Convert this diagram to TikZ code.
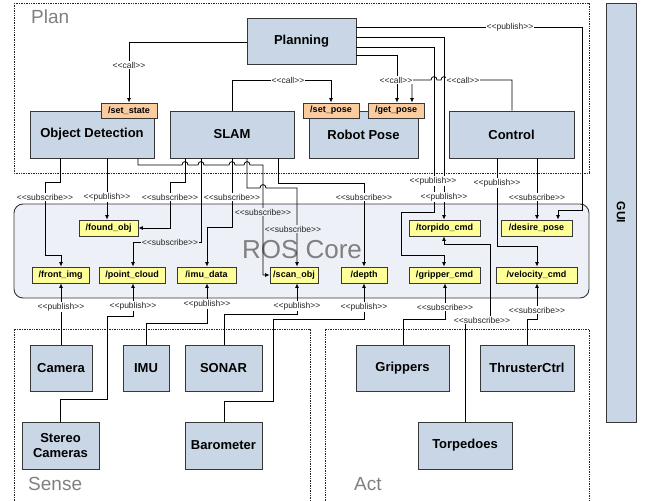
\documentclass[tikz,border=0pt]{standalone}
\usepackage{fontspec}
\setmainfont{Liberation Sans}
\usetikzlibrary{arrows.meta}
\definecolor{compblue}{RGB}{201,214,229}
\definecolor{srvorange}{RGB}{251,204,160}
\definecolor{topicyellow}{RGB}{255,255,153}
\definecolor{corefill}{RGB}{237,240,246}
\definecolor{edgegray}{RGB}{55,55,55}
\definecolor{regiongray}{RGB}{128,128,128}
\newcommand\sterlab[1]{<{}<#1>{}>}
\begin{document}
\begin{tikzpicture}[x=1pt,y=-1pt,
  comp/.style={draw=edgegray, line width=0.9pt, fill=compblue, inner sep=0pt, align=center,
    font=\bfseries\fontsize{13}{15}\selectfont},
  srv/.style={draw=edgegray, line width=0.8pt, fill=srvorange, inner sep=0pt,
    minimum width=56pt, minimum height=15pt, font=\bfseries\fontsize{9}{10}\selectfont},
  topic/.style={draw=edgegray, line width=0.8pt, fill=topicyellow, inner sep=0pt,
    minimum height=16pt, font=\bfseries\fontsize{9}{10}\selectfont},
  region/.style={draw=black!85, line width=0.8pt, dash pattern=on 1pt off 0.7pt},
  reglab/.style={text=regiongray, inner sep=0pt, font=\fontsize{19}{21}\selectfont},
  ln/.style={draw=black, line width=0.8pt},
  arr/.style={ln, -{Latex[length=4.5pt,width=4pt]}},
  lab/.style={fill=white, inner sep=0.6pt, text=black!85, font=\fontsize{8.5}{10}\selectfont},
  labc/.style={lab, fill=corefill}]
\useasboundingbox (0,0) rectangle (647,500);

% regions
\draw[region] (14,3) rectangle (589,173);
\draw[region] (14,503) -- (14,329) -- (310,329) -- (310,503);
\draw[region] (325,503) -- (325,329) -- (589,329) -- (589,503);
\draw[draw=edgegray, line width=0.9pt, fill=corefill, rounded corners=9pt] (14,204) rectangle (589,298);
\node[reglab, anchor=west] (plantxt) at (31,17) {Plan};
\node[reglab, anchor=west] (sensetxt) at (28,484) {Sense};
\node[reglab, anchor=west] (acttxt) at (354,484) {Act};
\node[text=regiongray, inner sep=0pt, font=\fontsize{26}{28}\selectfont] (coretxt) at (302,250) {ROS Core};

% components
\node[comp, minimum width=109pt, minimum height=46pt] (plan) at (301.5,41) {Planning};
\node[comp, minimum width=124pt, minimum height=47pt] (od) at (92,134.5) {Object Detection};
\node[comp, minimum width=124pt, minimum height=47pt] (slam) at (232,134.5) {SLAM};
\node[comp, minimum width=109pt, minimum height=47pt] (pose) at (363.5,134.5) {Robot Pose};
\node[comp, minimum width=125pt, minimum height=47pt] (ctrl) at (511.5,134.5) {Control};
\node[comp, minimum width=30pt, minimum height=419pt] (gui) at (621,212.5) {};
\node[font=\bfseries\fontsize{12}{14}\selectfont, rotate=-90] (guitxt) at (gui.center) {GUI};
\node[comp, minimum width=62pt, minimum height=46pt] (cam) at (61,368) {Camera};
\node[comp, minimum width=46pt, minimum height=46pt] (imu) at (146,368) {IMU};
\node[comp, minimum width=77pt, minimum height=46pt] (sonar) at (223.5,368) {SONAR};
\node[comp, minimum width=77pt, minimum height=47pt] (stereo) at (60.5,445.5) {Stereo\\Cameras};
\node[comp, minimum width=77pt, minimum height=47pt] (baro) at (223.5,445.5) {Barometer};
\node[comp, minimum width=93pt, minimum height=46pt] (grip) at (402.5,368) {Grippers};
\node[comp, minimum width=94pt, minimum height=46pt] (thr) at (527,368) {ThrusterCtrl};
\node[comp, minimum width=94pt, minimum height=47pt] (torp) at (465,445.5) {Torpedoes};

% services
\node[srv] (setstate) at (129,110.5) {/set\_state};
\node[srv] (setpose) at (331,110.5) {/set\_pose};
\node[srv] (getpose) at (396,110.5) {/get\_pose};

% topics
\node[topic, minimum width=59pt] (found) at (108.5,228) {/found\_obj};
\node[topic, minimum width=71pt] (torpcmd) at (444.5,228) {/torpido\_cmd};
\node[topic, minimum width=71pt] (desire) at (536.5,228) {/desire\_pose};
\node[topic, minimum width=57pt] (front) at (60.5,275) {/front\_img};
\node[topic, minimum width=66pt] (pcl) at (132,275) {/point\_cloud};
\node[topic, minimum width=59pt] (imud) at (206.5,275) {/imu\_data};
\node[topic, minimum width=48pt] (scan) at (294,275) {/scan\_obj};
\node[topic, minimum width=46pt] (depth) at (364,275) {/depth};
\node[topic, minimum width=71pt] (gripcmd) at (444.5,275) {/gripper\_cmd};
\node[topic, minimum width=81pt] (velcmd) at (536.5,275) {/velocity\_cmd};

% calls
\draw[arr] (plan.west |- 0,42) -- (129,42) -- (setstate.north);
\draw[arr] (232,0 |- slam.north) -- (232,80) -- (331,80) -- (setpose.north);
\draw[arr] (plan.east |- 0,55) -- (397,55) -- (397,0 |- getpose.north);
\draw[arr] (512,0 |- ctrl.north) -- (512,80) -- (447,80) .. controls (447,75.5) and (441,75.5) .. (441,80)
  -- (437,80) .. controls (437,75.5) and (431,75.5) .. (431,80) -- (412,80) -- (412,0 |- getpose.north);

% planning publishes
\draw[arr] (plan.east |- 0,27) -- (582,27) -- (582,210) -- (558,210) -- (558,0 |- desire.north);
\draw[arr] (plan.east |- 0,37) -- (444,37) -- (444,0 |- torpcmd.north);
\draw[arr] (plan.east |- 0,47) -- (434,47) -- (434,212) -- (401,212) -- (401,255) -- (444,255) -- (444,0 |- gripcmd.north);

% control
\draw[arr] (537,0 |- ctrl.south) -- (537,0 |- desire.north);
\draw[arr] (497,0 |- ctrl.south) -- (497,246) -- (537,246) -- (537,0 |- velcmd.north);

% object detection
\draw[arr] (60,0 |- od.south) -- (60,182) -- (45,182) -- (45,255) -- (61,255) -- (61,0 |- front.north);
\draw[arr] (107,0 |- od.south) -- (107,0 |- found.north);
\draw[arr] (138,0 |- od.south) -- (138,165) -- (182,165) .. controls (182,160.5) and (188,160.5) .. (188,165)
  -- (198,165) .. controls (198,160.5) and (204,160.5) .. (204,165)
  -- (229,165) .. controls (229,160.5) and (235,160.5) .. (235,165)
  -- (244,165) .. controls (244,160.5) and (250,160.5) .. (250,165)
  -- (263,165) -- (263,275) -- (scan.west |- 0,275);

% slam
\draw[arr] (185,0 |- slam.south) -- (185,182) -- (170,182) -- (170,228) -- (found.east |- 0,228);
\draw[arr] (201,0 |- slam.south) -- (201,242) -- (133,242) -- (133,0 |- pcl.north);
\draw[arr] (232,0 |- slam.south) -- (232,227) -- (207,227) -- (207,0 |- imud.north);
\draw[arr] (247,0 |- slam.south) -- (247,188) -- (260,188) .. controls (260,183.5) and (266,183.5) .. (266,188)
  -- (297,188) -- (297,0 |- scan.north);
\draw[arr] (278,0 |- slam.south) -- (278,183) -- (364,183) -- (364,0 |- depth.north);

% sense
\draw[arr] (61,0 |- cam.north) -- (61,0 |- front.south);
\draw[arr] (60,0 |- stereo.north) -- (60,399) -- (107,399) -- (107,316) -- (133,316) -- (133,0 |- pcl.south);
\draw[arr] (146,0 |- imu.north) -- (146,323) -- (207,323) -- (207,0 |- imud.south);
\draw[arr] (224,0 |- sonar.north) -- (224,314) -- (297,314) -- (297,0 |- scan.south);
\draw[arr] (224,0 |- baro.north) -- (224,401) -- (273,401) -- (273,319) -- (364,319) -- (364,0 |- depth.south);

% act
\draw[arr] (403,0 |- grip.north) -- (403,319) -- (445,319) -- (445,0 |- gripcmd.south);
\draw[arr] (465,0 |- torp.north) -- (465,320) -- (490,320) -- (490,244) -- (444,244) -- (444,0 |- torpcmd.south);
\draw[arr] (527,0 |- thr.north) -- (527,319) -- (537,319) -- (537,0 |- velcmd.south);

% labels
\node[lab] (l1) at (129,65) {\sterlab{call}};
\node[lab] (l2) at (288,80) {\sterlab{call}};
\node[lab] (l3) at (396,80) {\sterlab{call}};
\node[lab] (l4) at (463,80) {\sterlab{call}};
\node[lab] (l5) at (510,27) {\sterlab{publish}};
\node[lab] (l6) at (444,197) {\sterlab{publish}};
\node[lab] (l7) at (433,181) {\sterlab{publish}};
\node[lab] (l8) at (537,197) {\sterlab{subscribe}};
\node[lab] (l9) at (497,183) {\sterlab{publish}};
\node[lab] (l10) at (45,197) {\sterlab{subscribe}};
\node[lab] (l11) at (107,197) {\sterlab{publish}};
\node[labc] (l12) at (263,212) {\sterlab{subscribe}};
\node[lab] (l13) at (170,197) {\sterlab{subscribe}};
\node[labc] (l14) at (170,242) {\sterlab{subscribe}};
\node[lab] (l15) at (232,197) {\sterlab{subscribe}};
\node[labc] (l16) at (293,229) {\sterlab{subscribe}};
\node[lab] (l17) at (364,197) {\sterlab{subscribe}};
\node[lab] (l18) at (61,307) {\sterlab{publish}};
\node[lab] (l19) at (133,306) {\sterlab{publish}};
\node[lab] (l20) at (207,304) {\sterlab{publish}};
\node[lab] (l21) at (297,306) {\sterlab{publish}};
\node[lab] (l22) at (364,307) {\sterlab{publish}};
\node[lab] (l23) at (445,307) {\sterlab{subscribe}};
\node[lab] (l24) at (482,320) {\sterlab{subscribe}};
\node[lab] (l25) at (537,310) {\sterlab{subscribe}};
\end{tikzpicture}
\end{document}
